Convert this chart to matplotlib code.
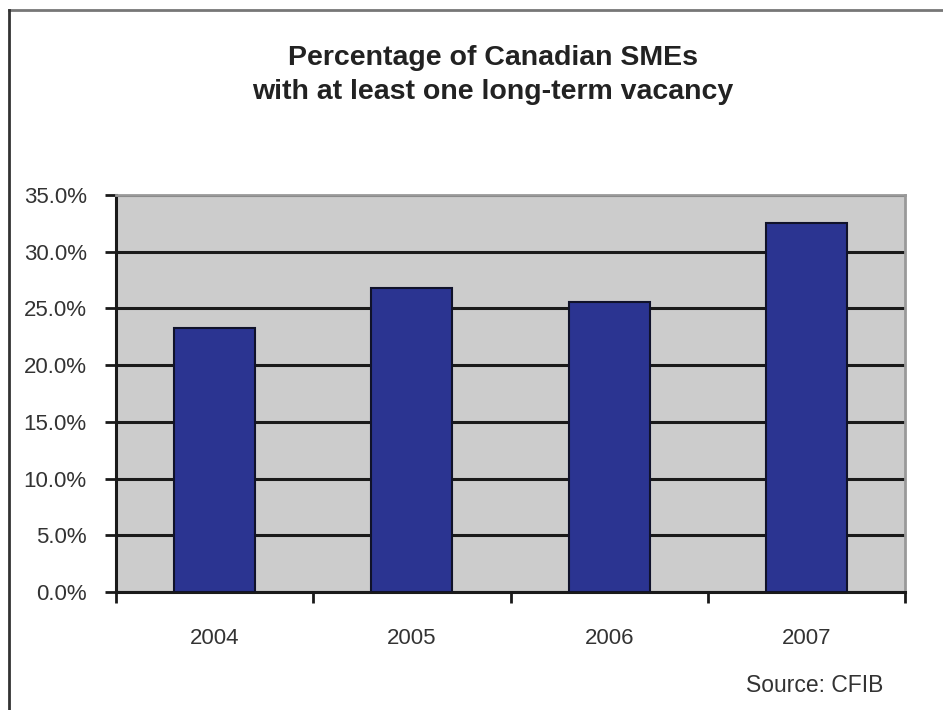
import matplotlib
matplotlib.use("Agg")
import matplotlib.pyplot as plt
from matplotlib.lines import Line2D
from matplotlib.ticker import FuncFormatter, FixedLocator

plt.rcParams['font.family'] = ['Liberation Sans', 'DejaVu Sans']

years = ["2004", "2005", "2006", "2007"]
values = [23.3, 26.8, 25.6, 32.5]
title = "Percentage of Canadian SMEs\nwith at least one long-term vacancy"
source = "Source: CFIB"

fig = plt.figure(figsize=(9.43, 7.10), dpi=100)
ax = fig.add_axes([116/943, 118/710, (905-116)/943, (592-195)/710])
ax.set_facecolor("#cccccc")

x = list(range(len(years)))
ax.bar(x, values, width=0.41, color="#2b3491", edgecolor="#10122a", linewidth=1.5, zorder=3)

ax.set_ylim(0, 35)
ax.set_xlim(-0.5, len(years) - 0.5)
ax.set_yticks([0, 5, 10, 15, 20, 25, 30, 35])
ax.yaxis.set_major_formatter(FuncFormatter(lambda v, p: f"{v:.1f}%"))
ax.yaxis.grid(True, color="#1a1a1a", linewidth=2.2, zorder=1)
ax.set_axisbelow(True)

ax.set_xticks(x)
ax.set_xticklabels(years)
ax.xaxis.set_minor_locator(FixedLocator([i - 0.5 for i in range(len(years) + 1)]))
ax.tick_params(axis="x", which="major", length=0, pad=26, labelsize=16, colors="#333333")
ax.tick_params(axis="x", which="minor", length=8, width=2, direction="out", color="#1a1a1a")
ax.tick_params(axis="y", length=8, width=2, direction="out", color="#1a1a1a", labelsize=16,
               labelcolor="#333333", pad=13)

for s in ["left", "bottom"]:
    ax.spines[s].set_color("#1a1a1a")
    ax.spines[s].set_linewidth(2.2)
for s in ["top", "right"]:
    ax.spines[s].set_color("#999999")
    ax.spines[s].set_linewidth(2)

fig.text(493/943, 1 - 75/710, title, ha="center", va="center", fontsize=20.5,
         fontweight="bold", color="#222222", linespacing=1.4)
fig.text(883/943, 1 - 686/710, source, ha="right", va="center", fontsize=16.5, color="#333333")

# outer frame (top and left edges visible)
fig.add_artist(Line2D([9/943, 1], [1 - 10/710, 1 - 10/710], transform=fig.transFigure,
                      color="#777777", linewidth=2))
fig.add_artist(Line2D([9/943, 9/943], [0, 1 - 10/710], transform=fig.transFigure,
                      color="#333333", linewidth=2))

fig.savefig("out.png", dpi=100)
